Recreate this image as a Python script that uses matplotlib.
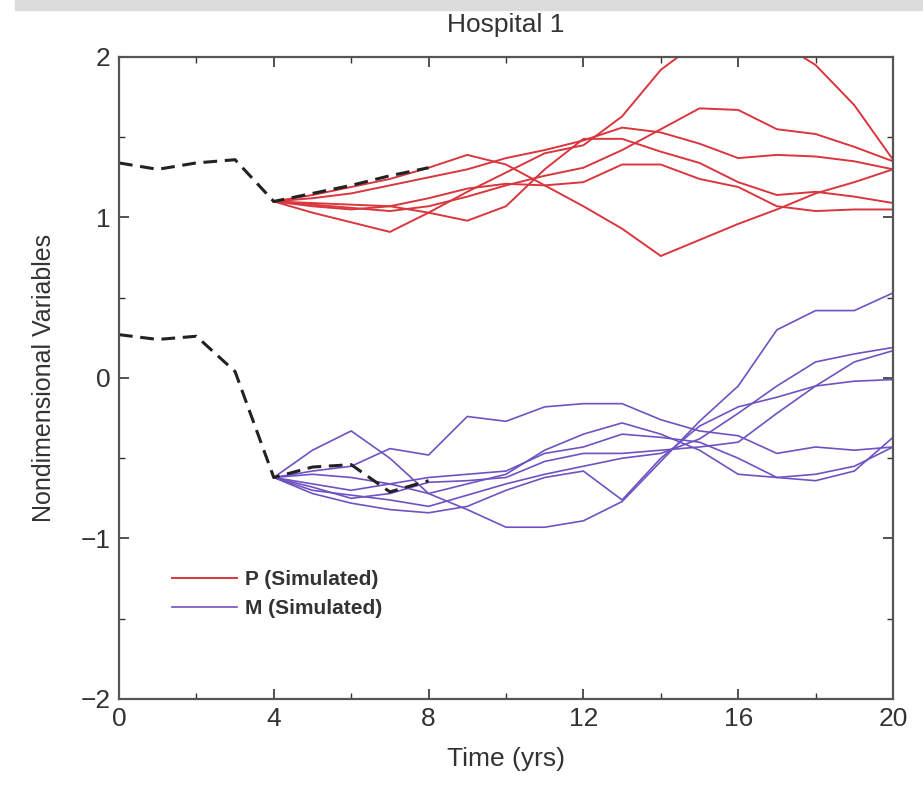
import numpy as np
import matplotlib.pyplot as plt
from matplotlib.patches import Rectangle

plt.rcParams['font.family'] = ['Liberation Sans', 'DejaVu Sans']

# observed (dashed) data, t = 0..8
t_obs = [0, 1, 2, 3, 4, 5, 6, 7, 8]
p_obs = [1.34, 1.30, 1.34, 1.36, 1.10, 1.15, 1.20, 1.26, 1.31]
m_obs = [0.27, 0.24, 0.26, 0.04, -0.62, -0.555, -0.54, -0.71, -0.64]

# simulated runs, t = 4..20
t_sim = list(range(4, 21))
p_sim = [
    [1.10, 1.03, 0.97, 0.91, 1.03, 1.16, 1.28, 1.40, 1.45, 1.63, 1.92, 2.10, 2.20, 2.10, 1.95, 1.70, 1.36],
    [1.10, 1.14, 1.19, 1.24, 1.31, 1.39, 1.33, 1.20, 1.07, 0.93, 0.76, 0.86, 0.96, 1.05, 1.15, 1.22, 1.30],
    [1.10, 1.08, 1.06, 1.04, 1.07, 1.13, 1.20, 1.26, 1.31, 1.42, 1.55, 1.68, 1.67, 1.55, 1.52, 1.44, 1.35],
    [1.10, 1.12, 1.15, 1.20, 1.25, 1.30, 1.37, 1.42, 1.48, 1.56, 1.53, 1.46, 1.37, 1.39, 1.38, 1.35, 1.30],
    [1.10, 1.09, 1.08, 1.07, 1.03, 0.98, 1.07, 1.30, 1.49, 1.49, 1.41, 1.34, 1.22, 1.14, 1.16, 1.13, 1.09],
    [1.10, 1.07, 1.05, 1.07, 1.12, 1.18, 1.21, 1.20, 1.22, 1.33, 1.33, 1.24, 1.19, 1.07, 1.04, 1.05, 1.05],
]
m_sim = [
    [-0.62, -0.58, -0.55, -0.44, -0.48, -0.24, -0.27, -0.18, -0.16, -0.16, -0.26, -0.33, -0.36, -0.47, -0.43, -0.45, -0.43],
    [-0.62, -0.45, -0.33, -0.50, -0.72, -0.82, -0.93, -0.93, -0.89, -0.77, -0.52, -0.27, -0.05, 0.30, 0.42, 0.42, 0.53],
    [-0.62, -0.66, -0.70, -0.66, -0.62, -0.60, -0.58, -0.47, -0.43, -0.35, -0.37, -0.40, -0.50, -0.62, -0.64, -0.58, -0.37],
    [-0.62, -0.70, -0.73, -0.76, -0.80, -0.73, -0.66, -0.60, -0.55, -0.50, -0.47, -0.38, -0.22, -0.05, 0.10, 0.15, 0.19],
    [-0.62, -0.68, -0.75, -0.72, -0.65, -0.64, -0.62, -0.52, -0.47, -0.47, -0.45, -0.43, -0.40, -0.22, -0.05, 0.10, 0.17],
    [-0.62, -0.72, -0.78, -0.82, -0.84, -0.80, -0.70, -0.62, -0.58, -0.76, -0.50, -0.30, -0.18, -0.12, -0.05, -0.02, -0.01],
    [-0.62, -0.60, -0.62, -0.66, -0.72, -0.66, -0.60, -0.45, -0.35, -0.28, -0.35, -0.45, -0.60, -0.62, -0.60, -0.55, -0.43],
]

red = '#d9363e'
purple = '#6f52c2'
txt = '#333333'

fig = plt.figure(figsize=(9.23, 7.85), dpi=100)
fig.patches.append(Rectangle((0.016, 0.987), 0.984, 0.013, transform=fig.transFigure,
                             color='#dcdcdc', zorder=0))
ax = fig.add_axes([0.1289, 0.1096, 0.8386, 0.8178])

for i, y in enumerate(p_sim):
    ax.plot(t_sim, y, color=red, lw=1.4, label='P (Simulated)' if i == 0 else None)
for i, y in enumerate(m_sim):
    ax.plot(t_sim, y, color=purple, lw=1.2, label='M (Simulated)' if i == 0 else None)
ax.plot(t_obs, p_obs, color='#222222', lw=2.2, ls=(0, (4.5, 2.5)))
ax.plot(t_obs, m_obs, color='#222222', lw=2.2, ls=(0, (4.5, 2.5)))

ax.set_xlim(0, 20)
ax.set_ylim(-2, 2)
ax.set_xticks([0, 4, 8, 12, 16, 20])
ax.set_xticks(np.arange(0, 21, 2), minor=True)
ax.set_yticks([-2, -1, 0, 1, 2])
ax.set_yticks(np.arange(-2, 2.01, 0.5), minor=True)
ax.tick_params(which='both', direction='in', top=True, right=True, labelsize=19, colors=txt)
ax.tick_params(which='major', length=7, width=1.2, pad=6)
ax.tick_params(which='minor', length=4, width=1.0)
for s in ax.spines.values():
    s.set_color('#555555')
    s.set_linewidth(1.6)

ax.set_title('Hospital 1', fontsize=19, color=txt, pad=18)
ax.set_xlabel('Time (yrs)', fontsize=19, color=txt, labelpad=11)
ax.set_ylabel('Nondimensional Variables', fontsize=18, color=txt, labelpad=18)

leg = ax.legend(loc='upper left', bbox_to_anchor=(0.0685, 0.201), frameon=False,
                borderpad=0, borderaxespad=0,
                prop={'weight': 'bold', 'size': 15}, handlelength=3.1,
                handletextpad=0.4, labelspacing=0.5)
for t in leg.get_texts():
    t.set_color(txt)

fig.savefig('out.png', dpi=100)
